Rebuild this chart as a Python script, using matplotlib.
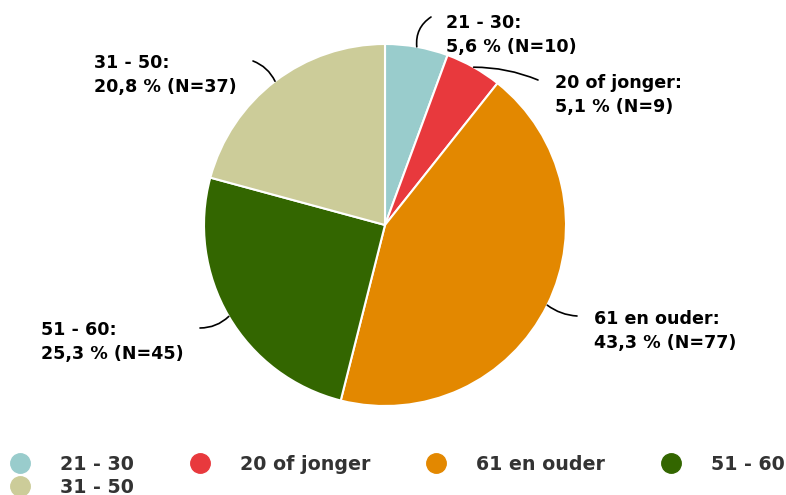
import matplotlib
matplotlib.use("Agg")
import matplotlib.pyplot as plt
from matplotlib.lines import Line2D
import numpy as np

# Data
categories = ["21 - 30", "20 of jonger", "61 en ouder", "51 - 60", "31 - 50"]
counts = [10, 9, 77, 45, 37]
percents = ["5,6", "5,1", "43,3", "25,3", "20,8"]
colors = ["#99CCCC", "#E8393D", "#E38800", "#336600", "#CCCC99"]

W, H = 786, 495
fig = plt.figure(figsize=(W / 100, H / 100), dpi=100)
ax = fig.add_axes([0, 0, 1, 1])

cx, cy, r = 385, H - 225, 181
wedges, _ = ax.pie(counts, colors=colors, startangle=90, counterclock=False,
                   center=(cx, cy), radius=r, frame=True,
                   wedgeprops=dict(edgecolor="white", linewidth=1.5))
ax.set_xlim(0, W)
ax.set_ylim(0, H)
ax.set_aspect("equal")
ax.axis("off")

# label text position (left x, block centre y in pixels from top), connector end, curvature
label_pos = [(446, 35), (555, 95), (594, 331), (41, 342), (94, 75)]
line_end = [(431, 17), (538, 80), (577, 316), (200, 328), (253, 61)]
rads = [0.3, 0.1, -0.15, 0.2, -0.2]

for w, cat, pct, n, (tx, ty), (lx, ly), rad in zip(wedges, categories, percents, counts,
                                                    label_pos, line_end, rads):
    mid = np.deg2rad((w.theta1 + w.theta2) / 2)
    px, py = cx + r * np.cos(mid), cy + r * np.sin(mid)
    ax.annotate("", xy=(px, py), xytext=(lx, H - ly),
                arrowprops=dict(arrowstyle="-", color="black", lw=1.2,
                                connectionstyle=f"arc3,rad={rad}",
                                shrinkA=0, shrinkB=0))
    ax.text(tx, H - ty, f"{cat}:\n{pct} % (N={n})", ha="left", va="center",
            fontsize=12.6, fontweight="bold", color="black", linespacing=1.4)

order = [0, 4, 1, 2, 3]
handles = [Line2D([], [], marker="o", linestyle="", markersize=14,
                  markerfacecolor=colors[i], markeredgecolor=colors[i]) for i in order]
labels = [categories[i] for i in order]
leg = fig.legend(handles, labels, loc="upper left", bbox_to_anchor=(0.0134, 0.081),
                 ncol=4, frameon=False, handletextpad=1.6, columnspacing=2.97,
                 labelspacing=0.22, borderaxespad=0, borderpad=0, handlelength=1.0,
                 prop=dict(family=["DejaVu Sans"], weight="bold", size=13.7))
for t in leg.get_texts():
    t.set_color("#333333")

fig.savefig("out.png", dpi=100)
